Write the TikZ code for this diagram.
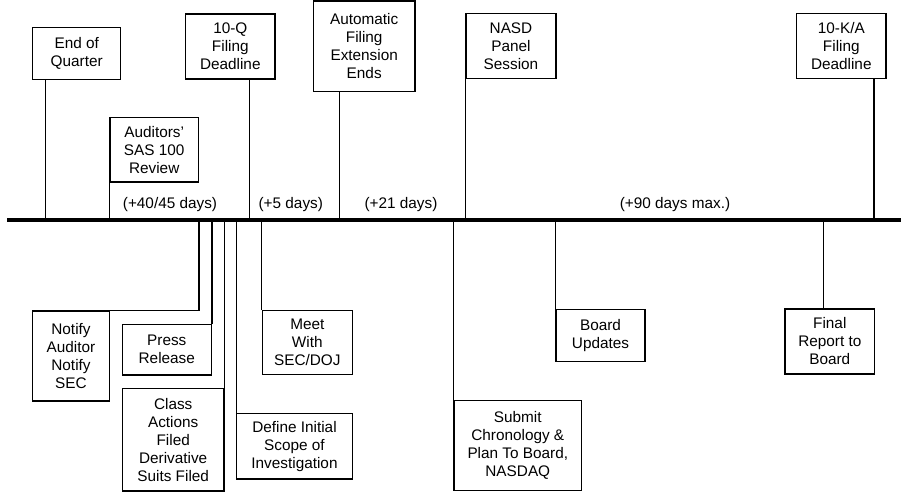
\documentclass[tikz,border=0pt]{standalone}
\usepackage{fontspec}
\setmainfont{Liberation Sans}
\begin{document}
\begin{tikzpicture}[x=0.75pt,y=-0.75pt,
  box/.style={draw, line width=0.9pt, inner sep=0pt, align=center, font=\fontsize{11.5}{13.5}\selectfont},
  lbl/.style={font=\fontsize{11.5}{13.5}\selectfont, inner sep=0pt},
  stem/.style={line width=0.9pt},
  axis/.style={line width=2.6pt}]
\useasboundingbox (0,0) rectangle (901,493);
% timeline ends
\coordinate (L) at (7,220);
\coordinate (R) at (901,220);
% top boxes
\node[box, minimum width=66pt, minimum height=39pt] (eoq) at (76.7,53.3) {End of\\Quarter};
\node[box, minimum width=66.2pt, minimum height=48.5pt] (sas) at (154.2,149.7) {Auditors'\\SAS 100\\Review};
\node[box, minimum width=67pt, minimum height=48.75pt] (tenq) at (230.3,46.5) {10-Q\\Filing\\Deadline};
\node[box, minimum width=76.3pt, minimum height=68pt] (auto) at (364.2,46.3) {Automatic\\Filing\\Extension\\Ends};
\node[box, minimum width=67.5pt, minimum height=48.75pt] (nasd) at (511,45.8) {NASD\\Panel\\Session};
\node[box, minimum width=67pt, minimum height=48.75pt] (tenk) at (841.3,45.8) {10-K/A\\Filing\\Deadline};
% bottom boxes
\node[box, minimum width=58pt, minimum height=67.5pt] (notify) at (71,356) {Notify\\Auditor\\Notify\\SEC};
\node[box, minimum width=66.75pt, minimum height=38pt] (press) at (166.8,349.7) {Press\\Release};
\node[box, minimum width=76.3pt, minimum height=76.7pt] (class) at (173.2,439.8) {Class\\Actions\\Filed\\Derivative\\Suits Filed};
\node[box, minimum width=86.7pt, minimum height=49pt] (define) at (294.5,446.3) {Define Initial\\Scope of\\Investigation};
\node[box, minimum width=67.5pt, minimum height=48.3pt] (meet) at (307.3,342.5) {Meet\\With\\SEC/DOJ};
\node[box, minimum width=95.8pt, minimum height=67.8pt] (submit) at (517.8,445.5) {Submit\\Chronology \&\\Plan To Board,\\NASDAQ};
\node[box, minimum width=66.75pt, minimum height=39.3pt] (board) at (600.5,335.5) {Board\\Updates};
\node[box, minimum width=67.3pt, minimum height=48.75pt] (final) at (829.8,341.5) {Final\\Report to\\Board};
% interval labels
\node[lbl] (l1) at (170,205) {(+40/45 days)};
\node[lbl] (l2) at (290.8,205) {(+5 days)};
\node[lbl] (l3) at (401,205) {(+21 days)};
\node[lbl] (l4) at (675,205) {(+90 days max.)};
% timeline points
\coordinate (t1) at (45.7,220);
\coordinate (t3) at (249.3,220);
\coordinate (t4) at (339.3,220);
\coordinate (t6) at (874,220);
\coordinate (b1) at (199,220);
\coordinate (b8) at (823.3,220);
% top stems
\draw[stem] (eoq.south -| t1) -- (t1);
\draw[stem] (sas.south west) -- (sas.south west |- L);
\draw[stem] (tenq.south -| t3) -- (t3);
\draw[stem] (auto.south -| t4) -- (t4);
\draw[stem] (nasd.south west) -- (nasd.south west |- L);
\draw[stem] (tenk.south -| t6) -- (t6);
% bottom stems
\draw[stem] (b1) |- (notify.north east);
\draw[stem] (press.north east) -- (press.north east |- L);
\draw[stem] (class.north east) -- (class.north east |- L);
\draw[stem] (define.north west) -- (define.north west |- L);
\draw[stem] (meet.north west) -- (meet.north west |- L);
\draw[stem] (submit.north west) -- (submit.north west |- L);
\draw[stem] (board.north west) -- (board.north west |- L);
\draw[stem] (final.north -| b8) -- (b8);
% timeline
\draw[axis] (L) -- (R);
\end{tikzpicture}
\end{document}
